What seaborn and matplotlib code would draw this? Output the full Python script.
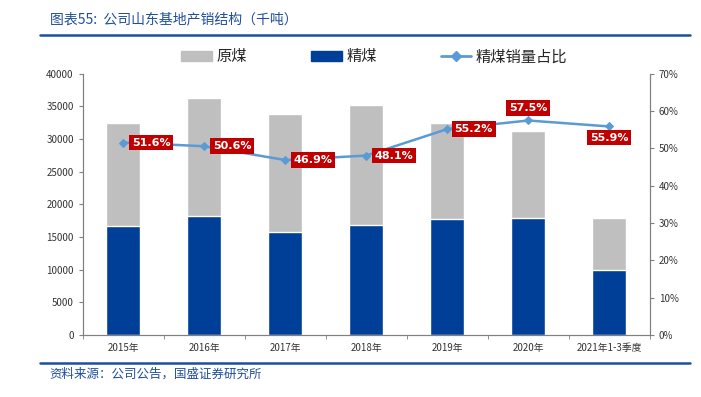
import matplotlib
matplotlib.use('Agg')
import matplotlib.pyplot as plt
import seaborn as sns
import numpy as np
import pandas as pd
from matplotlib.patches import Patch
from matplotlib.lines import Line2D
from matplotlib.ticker import FuncFormatter, FixedLocator

# data (thousand tonnes)
years = ['2015年', '2016年', '2017年', '2018年', '2019年', '2020年', '2021年1-3季度']
raw_coal = [32500, 36300, 33900, 35200, 32500, 31300, 17900]
washed_coal = [16750, 18250, 15850, 16900, 17800, 17950, 10000]
washed_ratio = [51.6, 50.6, 46.9, 48.1, 55.2, 57.5, 55.9]
ratio_labels = ['51.6%', '50.6%', '46.9%', '48.1%', '55.2%', '57.5%', '55.9%']

sns.set_style('white')
plt.rcParams['font.family'] = ['Noto Sans CJK SC', 'DejaVu Sans']

gray = '#BFBFBF'
blue = '#003F98'
line_c = '#5B9BD5'
red = '#C00000'
title_c = '#1F4E9A'
axis_c = '#808080'

df = pd.DataFrame({'year': years, 'raw': raw_coal, 'washed': washed_coal})

fig = plt.figure(figsize=(7.01, 3.97), dpi=100)
ax = fig.add_axes([0.118, 0.156, 0.809, 0.658])

sns.barplot(data=df, x='year', y='raw', color=gray, width=0.42, ax=ax,
            saturation=1, order=years)
sns.barplot(data=df, x='year', y='washed', color=blue, width=0.42, ax=ax,
            saturation=1, order=years)
ax.set_xlim(-0.5, len(years) - 0.5)
ax.set_ylim(0, 40000)
ax.set_yticks(np.arange(0, 40001, 5000))
ax.set_xlabel('')
ax.set_ylabel('')
ax.tick_params(axis='y', labelsize=7, colors='#333333', length=3, direction='out', left=True, color=axis_c)
ax.tick_params(axis='x', labelsize=7, colors='#333333', length=0, pad=6)
ax.xaxis.set_minor_locator(FixedLocator(np.arange(-0.5, len(years), 1)))
ax.tick_params(axis='x', which='minor', length=3, bottom=True, color=axis_c, direction='out')
for s in ['left', 'bottom', 'right']:
    ax.spines[s].set_color(axis_c)
    ax.spines[s].set_linewidth(0.8)
ax.spines['top'].set_visible(False)

ax2 = ax.twinx()
sns.lineplot(x=np.arange(len(years)), y=washed_ratio, ax=ax2, color=line_c,
             marker='D', markersize=4.5, markeredgecolor=line_c, linewidth=1.8)
ax2.set_ylim(0, 70)
ax2.set_yticks(np.arange(0, 71, 10))
ax2.yaxis.set_major_formatter(FuncFormatter(lambda v, p: f'{v:.0f}%'))
ax2.tick_params(axis='y', labelsize=7, colors='#333333', length=3, direction='out', right=True, color=axis_c)
for s in ['left', 'bottom', 'right']:
    ax2.spines[s].set_color(axis_c)
    ax2.spines[s].set_linewidth(0.8)
ax2.spines['top'].set_visible(False)

offsets = [(20, 0), (20, 0), (20, 0), (20, 0), (19, 0), (0, 9), (0, -8)]
for i, (lab, off) in enumerate(zip(ratio_labels, offsets)):
    ax2.annotate(lab, (i, washed_ratio[i]), xytext=off, textcoords='offset points',
                 ha='center', va='center', color='white', fontsize=8, fontweight='bold',
                 family='DejaVu Sans',
                 bbox=dict(boxstyle='square,pad=0.25', fc=red, ec='none'))

handles = [Patch(color=gray), Patch(color=blue),
           Line2D([0], [0], color=line_c, marker='D', markersize=5, linewidth=2)]
fig.legend(handles, ['原煤', '精煤', '精煤销量占比'], loc='center', ncol=3,
           bbox_to_anchor=(0.534, 0.857), frameon=False, fontsize=11,
           columnspacing=4.2, handlelength=2.0, handletextpad=0.3)

# title and source
fig.text(0.071, 0.952, '图表55:  公司山东基地产销结构（千吨）', color=title_c, fontsize=10,
         fontstyle='italic', va='center')
fig.add_artist(Line2D([0.057, 0.985], [0.913, 0.913], color=title_c, linewidth=1.8))
fig.add_artist(Line2D([0.057, 0.985], [0.086, 0.086], color=title_c, linewidth=1.8))
fig.text(0.071, 0.057, '资料来源：公司公告，国盛证券研究所', color=title_c, fontsize=9,
         fontstyle='italic', va='center')

fig.savefig('out.png', dpi=100)
